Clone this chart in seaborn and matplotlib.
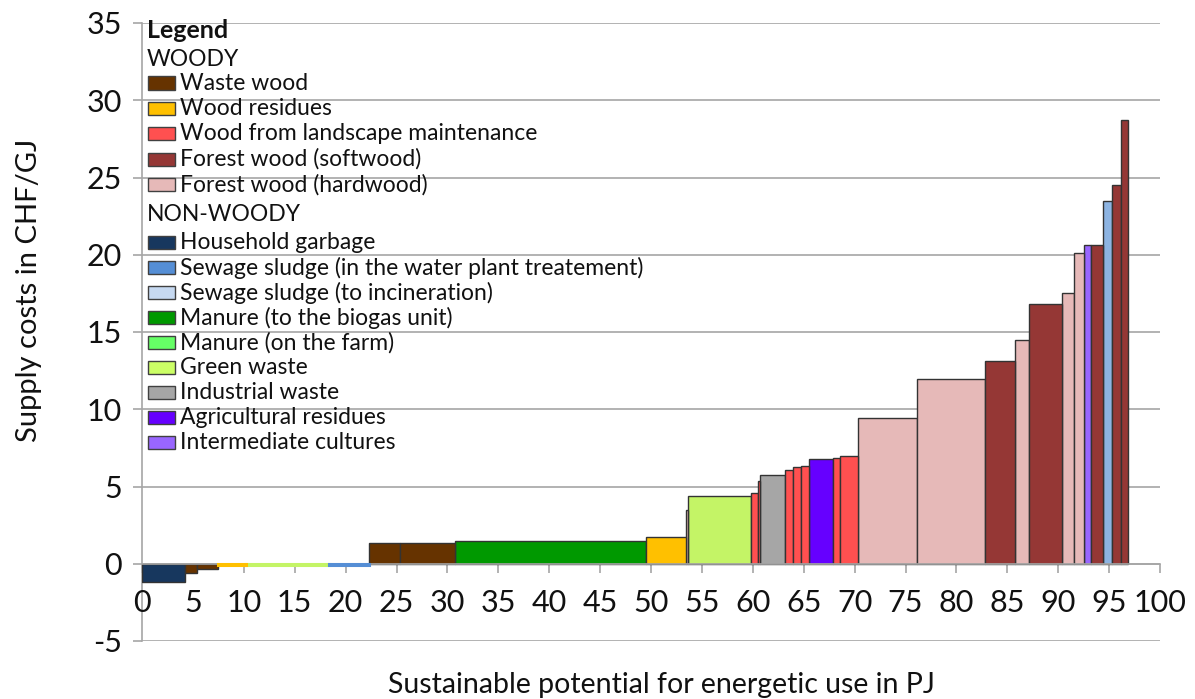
import numpy as np
import pandas as pd
import matplotlib
matplotlib.use("Agg")
import matplotlib.pyplot as plt
from matplotlib.patches import Rectangle
import seaborn as sns

# ---------------- data ----------------
segment_width_pj = [4.2, 1.2, 2.1, 2.7, 8.2, 3.9, 3.0, 5.4, 18.8, 3.9,
                    0.2, 6.2, 0.7, 0.2, 2.5, 0.7, 0.8, 0.8, 2.4, 0.7,
                    1.7, 5.8, 6.7, 3.0, 1.3, 3.3, 1.2, 0.9, 0.7, 1.2,
                    0.9, 0.9, 0.7]
supply_cost_chf_gj = [-1.2, -0.6, -0.35, -0.1, -0.1, -0.1, 1.35, 1.35, 1.5, 1.7,
                      3.5, 4.4, 4.55, 5.35, 5.75, 6.1, 6.25, 6.3, 6.8, 6.85,
                      7.0, 9.45, 11.95, 13.15, 14.5, 16.8, 17.55, 20.1, 20.6, 20.6,
                      23.45, 24.5, 28.75]
segment_category = [
    "Household garbage", "Waste wood", "Waste wood", "Wood residues", "Green waste",
    "Sewage sludge (in the water plant treatement)", "Waste wood", "Waste wood",
    "Manure (to the biogas unit)", "Wood residues",
    "Forest wood (hardwood)", "Green waste", "Wood from landscape maintenance",
    "Wood from landscape maintenance", "Industrial waste",
    "Wood from landscape maintenance", "Wood from landscape maintenance",
    "Wood from landscape maintenance", "Agricultural residues",
    "Wood from landscape maintenance",
    "Wood from landscape maintenance", "Forest wood (hardwood)", "Forest wood (hardwood)",
    "Forest wood (softwood)", "Forest wood (hardwood)", "Forest wood (softwood)",
    "Forest wood (hardwood)", "Forest wood (hardwood)", "Intermediate cultures",
    "Forest wood (softwood)", "Sewage sludge (to incineration)",
    "Forest wood (softwood)", "Forest wood (softwood)"]

woody_labels = ["Waste wood", "Wood residues", "Wood from landscape maintenance",
                "Forest wood (softwood)", "Forest wood (hardwood)"]
nonwoody_labels = ["Household garbage", "Sewage sludge (in the water plant treatement)",
                   "Sewage sludge (to incineration)", "Manure (to the biogas unit)",
                   "Manure (on the farm)", "Green waste", "Industrial waste",
                   "Agricultural residues", "Intermediate cultures"]
y_ticks = [-5, 0, 5, 10, 15, 20, 25, 30, 35]
x_ticks = list(range(0, 101, 5))

# ---------------- styles ----------------
legend_colors = {
    "Waste wood": "#663300",
    "Wood residues": "#FFC000",
    "Wood from landscape maintenance": "#FF5050",
    "Forest wood (softwood)": "#953735",
    "Forest wood (hardwood)": "#E6B9B8",
    "Household garbage": "#17375E",
    "Sewage sludge (in the water plant treatement)": "#558ED5",
    "Sewage sludge (to incineration)": "#C6D9F1",
    "Manure (to the biogas unit)": "#009900",
    "Manure (on the farm)": "#66FF66",
    "Green waste": "#CCFF66",
    "Industrial waste": "#A6A6A6",
    "Agricultural residues": "#6600FF",
    "Intermediate cultures": "#9966FF",
}
bar_colors = dict(legend_colors)
bar_colors["Sewage sludge (to incineration)"] = "#8DB4E2"
bar_colors["Green waste"] = "#C4F466"

sns.set_theme(style="white")
plt.rcParams["font.family"] = ["Lato", "DejaVu Sans"]
plt.rcParams["axes.unicode_minus"] = False
grid_color = "#A6A6A6"

edges = np.concatenate([[0.0], np.cumsum(segment_width_pj)])
df = pd.DataFrame({
    "mid": (edges[:-1] + edges[1:]) / 2,
    "cost": supply_cost_chf_gj,
    "category": segment_category,
})

fig = plt.figure(figsize=(11.95, 6.99), dpi=100)
ax = fig.add_axes([142 / 1195, 1 - 641 / 699, 1018 / 1195, 618 / 699])

sns.histplot(data=df, x="mid", weights="cost", hue="category", bins=edges.tolist(),
             palette=bar_colors, multiple="layer", element="bars", alpha=1,
             edgecolor="#333333", linewidth=1.0, legend=False, ax=ax,
             hue_order=list(legend_colors.keys()))

# drop empty bins, draw the hair-thin bars as coloured strips above the zero line
for p in list(ax.patches):
    h = p.get_height()
    if h == 0:
        p.remove()
    elif abs(h) < 0.2:
        p.set_edgecolor(p.get_facecolor())
        p.set_linewidth(2.2)
        p.set_zorder(3)

ax.set_xlim(0, 100)
ax.set_ylim(-5, 35)
ax.set_xticks(x_ticks)
ax.set_yticks(y_ticks)
ax.set_axisbelow(True)
ax.yaxis.grid(True, color=grid_color, linewidth=1.2)
ax.xaxis.grid(False)

for s in ["top", "right"]:
    ax.spines[s].set_visible(False)
ax.spines["bottom"].set_position(("data", 0))
ax.spines["bottom"].set_color(grid_color)
ax.spines["bottom"].set_linewidth(1.2)
ax.spines["left"].set_color(grid_color)
ax.spines["left"].set_linewidth(1.2)
ax.spines["left"].set_zorder(0.5)

ax.tick_params(axis="x", direction="out", length=6.5, width=1.2, color=grid_color,
               labelsize=22, pad=12, bottom=True)
ax.tick_params(axis="y", direction="out", length=6.5, width=1.2, color=grid_color,
               labelsize=22, pad=8, left=True)
for t in ax.get_xticklabels() + ax.get_yticklabels():
    t.set_color("#111111")

ax.set_xlabel("")
ax.set_ylabel("Supply costs in CHF/GJ", fontsize=21, color="#111111")
ax.yaxis.set_label_coords(-0.098, 0.568)
fig.text(661 / 1195, 1 - 685 / 699, "Sustainable potential for energetic use in PJ",
         ha="center", va="center", fontsize=20.5, color="#111111")

# ---------------- legend drawn inside the axes ----------------
def ax_xy(px, py):
    return (px - 142) / 1018, (641 - py) / 618

tx, ty = ax_xy(147, 31)
ax.text(tx, ty, "Legend", transform=ax.transAxes, fontsize=18, fontweight="bold",
        va="center", ha="left", color="#111111")

def header(py, text):
    x, y = ax_xy(147, py)
    ax.text(x, y, text, transform=ax.transAxes, fontsize=16.5, va="center",
            ha="left", color="#111111")

def entry(py, label):
    x0, y0 = ax_xy(148, py + 6.5)
    x1, y1 = ax_xy(175, py - 6.5)
    ax.add_patch(Rectangle((x0, y0), x1 - x0, y1 - y0, transform=ax.transAxes,
                           facecolor=legend_colors[label], edgecolor="#404040",
                           linewidth=1, zorder=5))
    x, y = ax_xy(180, py)
    ax.text(x, y, label, transform=ax.transAxes, fontsize=16.5, va="center",
            ha="left", color="#111111")

header(60, "WOODY")
for i, lab in enumerate(woody_labels):
    entry(83 + 25.4 * i, lab)
header(215, "NON-WOODY")
for i, lab in enumerate(nonwoody_labels):
    entry(243 + 24.9 * i, lab)

fig.savefig("out.png", dpi=100)
